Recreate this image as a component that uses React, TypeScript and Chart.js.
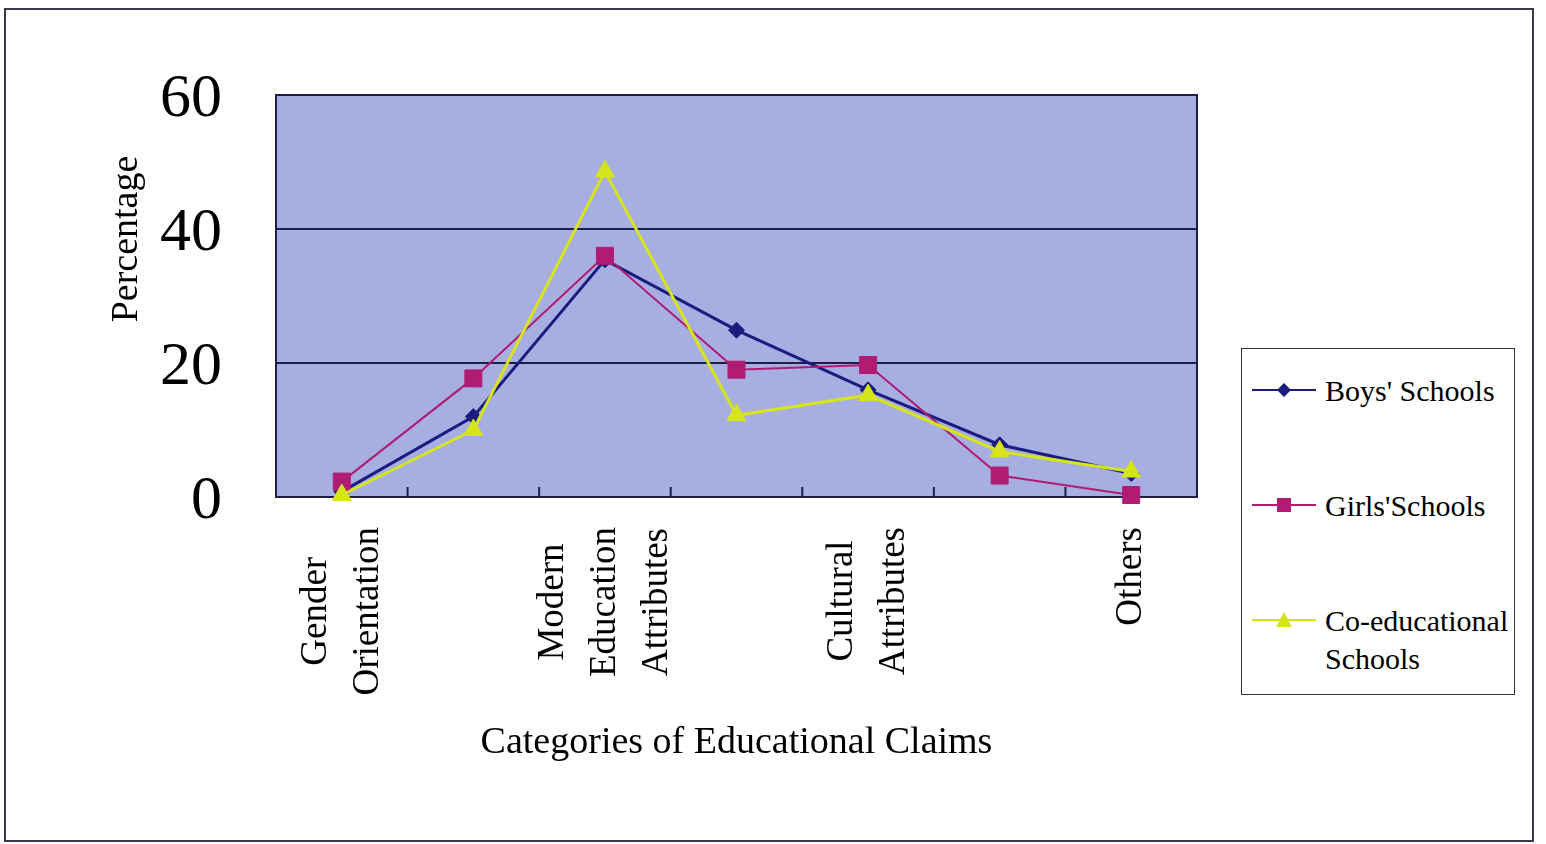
import React, { useEffect, useRef } from "react";
import { Chart, registerables } from "chart.js";

Chart.register(...registerables);

// ---- data ----
const categories = [
  "Gender Orientation",
  "",
  "Modern Education Attributes",
  "",
  "Cultural Attributes",
  "",
  "Others",
];
const boysSchools = [0.8, 12.0, 35.4, 24.9, 16.0, 7.8, 3.5];
const girlsSchools = [2.3, 17.7, 36.0, 19.0, 19.7, 3.2, 0.3];
const coEducationalSchools = [0.3, 10.0, 48.6, 12.2, 15.2, 6.8, 3.8];
const yTickValues = [0, 20, 40, 60];
const seriesNames = ["Boys' Schools", "Girls'Schools", "Co-educational Schools"];
const yTitle = "Percentage";
const xTitle = "Categories of Educational Claims";

// ---- styles ----
const SERIF = "'Liberation Serif', 'Times New Roman', serif";
const BOYS = "#1c1c7e";
const GIRLS = "#b01c72";
const COED = "#d6e41c";
const PLOT_BG = "#a6aee2";
const FRAME = "#1e1e48";

const decorPlugin = {
  id: "decor",
  beforeDraw(chart: any) {
    const { ctx, chartArea: a } = chart;
    ctx.save();
    ctx.fillStyle = PLOT_BG;
    ctx.fillRect(a.left, a.top, a.right - a.left, a.bottom - a.top);
    ctx.restore();
  },
  beforeDatasetsDraw(chart: any) {
    const { ctx, chartArea: a, scales } = chart;
    const xs = scales.x;
    ctx.save();
    ctx.strokeStyle = FRAME;
    ctx.lineWidth = 2;
    ctx.strokeRect(a.left, a.top, a.right - a.left, a.bottom - a.top);
    for (let i = 0; i < categories.length - 1; i++) {
      const px = (xs.getPixelForValue(i) + xs.getPixelForValue(i + 1)) / 2;
      ctx.beginPath();
      ctx.moveTo(px, a.bottom);
      ctx.lineTo(px, a.bottom - 10);
      ctx.stroke();
    }
    ctx.restore();
  },
  afterDraw(chart: any) {
    const { ctx, chartArea: a, scales } = chart;
    ctx.save();
    ctx.font = `37px ${SERIF}`;
    ctx.fillStyle = "#000";
    ctx.textBaseline = "middle";
    ctx.textAlign = "center";
    categories.forEach((label, i) => {
      if (!label) return;
      const lines = label.split(" ");
      const w = Math.max(...lines.map((l) => ctx.measureText(l).width));
      const cx = scales.x.getPixelForValue(i);
      const cy = a.bottom + 30 + w / 2;
      lines.forEach((ln, j) => {
        const lx = cx + (j - (lines.length - 1) / 2) * 52;
        ctx.save();
        ctx.translate(lx, cy);
        ctx.rotate(-Math.PI / 2);
        ctx.fillText(ln, 0, 0);
        ctx.restore();
      });
    });
    ctx.restore();
  },
};

function LegendMarker({ kind, color }: { kind: string; color: string }) {
  let marker: any = null;
  if (kind === "diamond") {
    marker = <polygon points="32,4 39,11 32,18 25,11" fill={color} />;
  } else if (kind === "square") {
    marker = <rect x="25" y="4" width="14" height="14" fill={color} />;
  } else {
    marker = <polygon points="32,3 40,18 24,18" fill={color} />;
  }
  return (
    <svg width="64" height="22" style={{ display: "block" }}>
      <line x1="0" y1="11" x2="64" y2="11" stroke={color} strokeWidth="2" />
      {marker}
    </svg>
  );
}

export default function App() {
  const canvasRef = useRef<HTMLCanvasElement | null>(null);

  useEffect(() => {
    const canvas = canvasRef.current;
    if (!canvas) return;
    const chart = new Chart(canvas, {
      type: "line",
      data: {
        labels: categories,
        datasets: [
          {
            label: seriesNames[0],
            data: boysSchools,
            borderColor: BOYS,
            backgroundColor: BOYS,
            borderWidth: 3,
            pointStyle: "rectRot",
            pointRadius: 8,
            pointBorderWidth: 1,
            pointBorderColor: BOYS,
            pointBackgroundColor: BOYS,
            tension: 0,
            clip: false,
            order: 3,
          },
          {
            label: seriesNames[1],
            data: girlsSchools,
            borderColor: GIRLS,
            backgroundColor: GIRLS,
            borderWidth: 2,
            pointStyle: "rect",
            pointRadius: 12,
            pointBorderWidth: 1,
            pointBorderColor: GIRLS,
            pointBackgroundColor: GIRLS,
            tension: 0,
            clip: false,
            order: 2,
          },
          {
            label: seriesNames[2],
            data: coEducationalSchools,
            borderColor: COED,
            backgroundColor: COED,
            borderWidth: 3,
            pointStyle: "triangle",
            pointRadius: 11,
            pointBorderWidth: 1,
            pointBorderColor: COED,
            pointBackgroundColor: COED,
            tension: 0,
            clip: false,
            order: 1,
          },
        ],
      },
      options: {
        responsive: false,
        animation: false,
        devicePixelRatio: 1,
        layout: { padding: { left: 104, top: 95, right: 349, bottom: 78 } },
        plugins: {
          legend: { display: false },
          tooltip: { enabled: false },
        },
        scales: {
          x: {
            type: "category",
            offset: true,
            grid: { display: false, drawTicks: false },
            border: { display: false },
            ticks: { display: false },
            title: {
              display: true,
              text: xTitle,
              color: "#000",
              font: { family: SERIF, size: 38, lineHeight: 1.2 },
              padding: { top: 0, bottom: 0 },
            },
            afterFit: (s: any) => {
              s.height = 269;
            },
          },
          y: {
            min: 0,
            max: 60,
            grid: { color: FRAME, lineWidth: 2, drawTicks: false },
            border: { display: false },
            ticks: {
              stepSize: 20,
              padding: 54,
              labelOffset: 5,
              color: "#000",
              font: { family: SERIF, size: 62 },
            },
            afterBuildTicks: (s: any) => {
              s.ticks = yTickValues.map((v) => ({ value: v }));
            },
            title: {
              display: true,
              text: " ".repeat(12) + yTitle,
              color: "#000",
              font: { family: SERIF, size: 38, lineHeight: 1.2 },
              padding: { top: 0, bottom: 0 },
            },
            afterFit: (s: any) => {
              s.width = 172;
            },
          },
        },
      },
      plugins: [decorPlugin],
    } as any);
    return () => chart.destroy();
  }, []);

  const legendText: React.CSSProperties = {
    position: "absolute",
    left: 83,
    fontFamily: SERIF,
    fontSize: 30,
    lineHeight: "38px",
    color: "#000",
    whiteSpace: "nowrap",
  };

  return (
    <div
      style={{
        position: "absolute",
        left: 0,
        top: 0,
        width: 1546,
        height: 844,
        background: "#fff",
        overflow: "hidden",
      }}
    >
      <canvas
        ref={canvasRef}
        width={1546}
        height={844}
        style={{ position: "absolute", left: 0, top: 0, width: 1546, height: 844 }}
      />
      <div
        style={{
          position: "absolute",
          left: 4,
          top: 8,
          width: 1530,
          height: 834,
          border: "2px solid #3a3a4e",
          boxSizing: "border-box",
          pointerEvents: "none",
        }}
      />
      <div
        style={{
          position: "absolute",
          left: 1241,
          top: 348,
          width: 274,
          height: 347,
          border: "1.5px solid #333",
          boxSizing: "border-box",
          background: "#fff",
        }}
      >
        <div style={{ position: "absolute", left: 10, top: 30 }}>
          <LegendMarker kind="diamond" color={BOYS} />
        </div>
        <div style={{ ...legendText, top: 23 }}>{seriesNames[0]}</div>

        <div style={{ position: "absolute", left: 10, top: 145 }}>
          <LegendMarker kind="square" color={GIRLS} />
        </div>
        <div style={{ ...legendText, top: 138 }}>{seriesNames[1]}</div>

        <div style={{ position: "absolute", left: 10, top: 260 }}>
          <LegendMarker kind="triangle" color={COED} />
        </div>
        <div style={{ ...legendText, top: 253 }}>
          Co-educational
          <br />
          Schools
        </div>
      </div>
    </div>
  );
}
